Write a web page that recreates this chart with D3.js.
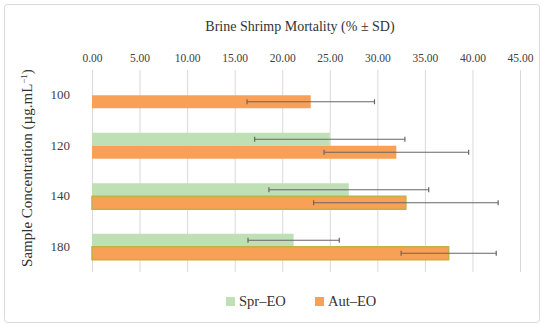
<!DOCTYPE html>
<html>
  <head>
    <meta charset="utf-8">
    <title>Brine Shrimp Mortality</title>
    <style>
      body { margin: 0; background: #fff; }
      svg text { font-family: "Liberation Serif", "DejaVu Serif", serif; fill: #333; }
    </style>
  </head>
  <body>
  <div id="chart"></div>
  <script src="https://cdnjs.cloudflare.com/ajax/libs/d3/7.8.5/d3.min.js"></script>
  <script>
    // data
    var concentrations = ["100", "120", "140", "180"];
    var seriesNames = ["Spr\u2013EO", "Aut\u2013EO"];
    var sprMean = [null, 25.0, 27.0, 21.2];
    var sprSD   = [null, 7.9, 8.4, 4.8];
    var autMean = [23.0, 32.0, 33.0, 37.5];
    var autSD   = [6.7, 7.6, 9.7, 5.0];
    var xTicks  = [0, 5, 10, 15, 20, 25, 30, 35, 40, 45];

    var colors = ["#bfe0b5", "#f9a057"];
    var outlinedCats = ["140", "180"];   // aut bars with olive edge in the original
    var serif = "'Liberation Serif', 'DejaVu Serif', serif";

    var W = 550, H = 328;
    var plot = {left: 92, right: 520, top: 70, bottom: 272};

    var svg = d3.select("#chart").append("svg")
      .attr("width", W).attr("height", H);

    // frame
    svg.append("rect")
      .attr("x", 4.5).attr("y", 4.5)
      .attr("width", 535).attr("height", 318)
      .attr("rx", 3)
      .attr("fill", "#fff").attr("stroke", "#d9d9d9");

    var x = d3.scaleLinear().domain([0, 45]).range([plot.left, plot.right]);
    var y = d3.scaleBand().domain(concentrations)
      .range([plot.top, plot.bottom])
      .paddingInner(0.485).paddingOuter(0.2425);
    var ySub = d3.scaleBand().domain(seriesNames).range([0, y.bandwidth()]);

    // gridlines
    svg.append("g").selectAll("line")
      .data(xTicks).enter().append("line")
        .attr("x1", function (d) { return x(d) + 0.5; })
        .attr("x2", function (d) { return x(d) + 0.5; })
        .attr("y1", plot.top).attr("y2", plot.bottom)
        .attr("stroke", "#d9d9d9");

    // top axis labels
    var xAxis = svg.append("g")
      .attr("transform", "translate(0," + (plot.top - 5) + ")")
      .call(d3.axisTop(x).tickValues(xTicks).tickFormat(d3.format(".2f")).tickSize(0));
    xAxis.attr("font-family", serif);
    xAxis.select(".domain").remove();
    xAxis.selectAll("text")
      .style("font-family", serif).style("font-size", "11.5px").style("fill", "#404040");

    // category labels
    var yAxis = svg.append("g")
      .attr("transform", "translate(" + (plot.left - 19) + ",0)")
      .call(d3.axisLeft(y).tickSize(0));
    yAxis.attr("font-family", serif);
    yAxis.select(".domain").remove();
    yAxis.selectAll("text")
      .style("font-family", serif).style("font-size", "13px").style("fill", "#404040");

    var rows = concentrations.map(function (c, i) {
      return [
        {cat: c, s: seriesNames[0], v: sprMean[i], sd: sprSD[i], k: 0},
        {cat: c, s: seriesNames[1], v: autMean[i], sd: autSD[i], k: 1}
      ];
    }).flat().filter(function (d) { return d.v != null; });

    // bars
    svg.append("g").selectAll("rect")
      .data(rows).enter().append("rect")
        .attr("x", x(0))
        .attr("y", function (d) { return y(d.cat) + ySub(d.s); })
        .attr("width", function (d) { return x(d.v) - x(0); })
        .attr("height", ySub.bandwidth())
        .attr("fill", function (d) { return colors[d.k]; })
        .attr("stroke", function (d) {
          return d.k == 1 && outlinedCats.indexOf(d.cat) >= 0 ? "#c7b043" : "none";
        })
        .attr("stroke-width", 1.5);

    // error bars
    var eb = svg.append("g").selectAll("g")
      .data(rows).enter().append("g")
        .attr("transform", function (d) {
          return "translate(0," + (y(d.cat) + ySub(d.s) + ySub.bandwidth() / 2) + ")";
        })
        .attr("stroke", "#666").attr("stroke-width", 1.2);
    eb.append("line")
      .attr("x1", function (d) { return x(d.v - d.sd); })
      .attr("x2", function (d) { return x(d.v + d.sd); });
    eb.append("line")
      .attr("x1", function (d) { return x(d.v - d.sd); })
      .attr("x2", function (d) { return x(d.v - d.sd); })
      .attr("y1", -2.5).attr("y2", 2.5);
    eb.append("line")
      .attr("x1", function (d) { return x(d.v + d.sd); })
      .attr("x2", function (d) { return x(d.v + d.sd); })
      .attr("y1", -2.5).attr("y2", 2.5);

    // titles
    svg.append("text")
      .attr("x", 300).attr("y", 31)
      .attr("text-anchor", "middle")
      .style("font-size", "14px")
      .text("Brine Shrimp Mortality (% \u00b1 SD)");

    svg.append("text")
      .attr("transform", "translate(32,168) rotate(-90)")
      .attr("text-anchor", "middle")
      .style("font-size", "15px")
      .text("Sample Concentration (\u00b5g.mL")
      .append("tspan").attr("dy", -5).style("font-size", "9px").text("\u22121")
      .select(function () { return this.parentNode; })
      .append("tspan").attr("dy", 5).text(")");

    // legend
    var legendX = [226, 315];
    var lg = svg.append("g").selectAll("g")
      .data(seriesNames).enter().append("g")
        .attr("transform", function (d, i) { return "translate(" + legendX[i] + ",297)"; });
    lg.append("rect")
      .attr("width", 9).attr("height", 9)
      .attr("fill", function (d, i) { return colors[i]; });
    lg.append("text")
      .attr("x", 13).attr("y", 9)
      .style("font-size", "14.5px")
      .text(function (d) { return d; });
  </script>
  </body>
</html>
